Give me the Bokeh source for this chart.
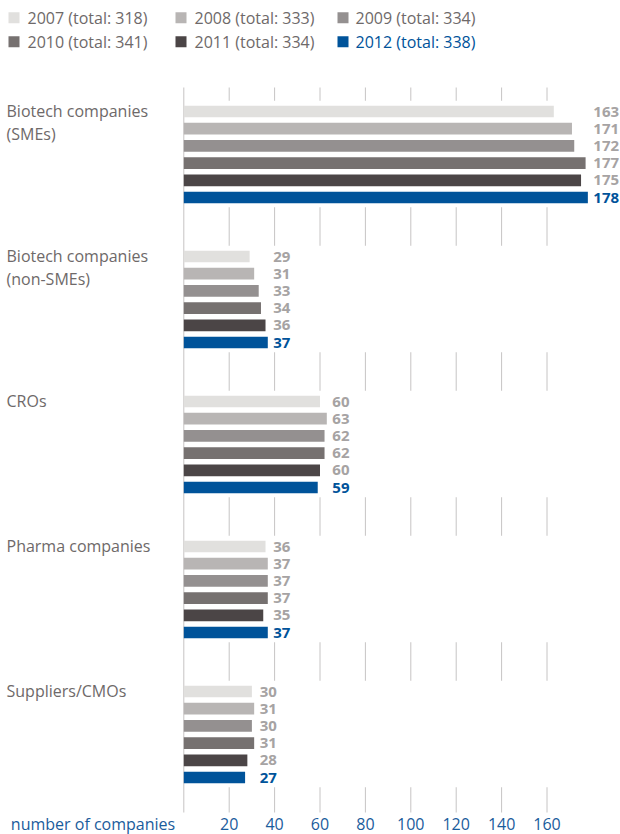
from bokeh.plotting import figure
from bokeh.models import Range1d, FixedTicker, ColumnDataSource
from bokeh.core.properties import value
from bokeh.embed import file_html
from bokeh.resources import INLINE

# ---------------- data ----------------
categories = ["Biotech companies\n(SMEs)", "Biotech companies\n(non-SMEs)", "CROs",
              "Pharma companies", "Suppliers/CMOs"]
years = ["2007", "2008", "2009", "2010", "2011", "2012"]
totals = [318, 333, 334, 341, 334, 338]
v2007 = [163, 29, 60, 36, 30]
v2008 = [171, 31, 63, 37, 31]
v2009 = [172, 33, 62, 37, 30]
v2010 = [177, 34, 62, 37, 31]
v2011 = [175, 36, 60, 35, 28]
v2012 = [178, 37, 59, 37, 27]
series = [v2007, v2008, v2009, v2010, v2011, v2012]
tick_values = [20, 40, 60, 80, 100, 120, 140, 160]
axis_title = "number of companies"

# ---------------- style ----------------
colors = ["#e1e0de", "#b8b5b4", "#949090", "#767170", "#4b4546", "#00539a"]
blue = "#00539a"
label_grey = "#6e6969"
value_grey = "#a6a3a3"
grid_grey = "#c6c4c4"
FONT = value("Open Sans")

W, H = 620, 834
PX = 2.27            # pixels per unit
X0 = 183.3           # pixel of zero
def ux(px):
    return (px - X0) / PX

first_center = 111.0
group_step = 145.0
bar_step = 17.2
bar_h = 11.7

p = figure(width=W, height=H, output_backend="svg", toolbar_location=None,
           x_range=Range1d(ux(0), ux(W)), y_range=Range1d(H, 0),
           y_axis_location=None, min_border=0, min_border_left=0,
           min_border_right=0, min_border_top=0, min_border_bottom=0)
p.outline_line_color = None
p.xgrid.visible = False
p.ygrid.visible = False
p.background_fill_color = "white"
p.border_fill_color = "white"

# gridlines
grid_top, grid_bottom = 87, 812
p.segment(x0=tick_values, x1=tick_values, y0=[grid_top] * len(tick_values),
          y1=[grid_bottom] * len(tick_values), line_color=grid_grey, line_width=1)

# white bands behind each group
ng = len(categories)
g_first = [first_center + g * group_step for g in range(ng)]
g_last = [c + (len(years) - 1) * bar_step for c in g_first]
p.quad(left=[0.4] * ng, right=[ux(W)] * ng,
       top=[c - bar_h / 2 - 5 for c in g_first],
       bottom=[c + bar_h / 2 + 4 for c in g_last],
       fill_color="white", line_color=None)

# zero line
p.segment(x0=[0], x1=[0], y0=[grid_top], y1=[grid_bottom], line_color=grid_grey, line_width=1)

# bars
for j, (yr, vals) in enumerate(zip(years, series)):
    ys = [g_first[g] + j * bar_step for g in range(ng)]
    src = ColumnDataSource(dict(y=ys, v=vals))
    p.hbar(y="y", left=0, right="v", height=bar_h, source=src,
           fill_color=colors[j], line_color=None)

# value labels positioned after the longest bar of each group
gmax = [max(s[g] for s in series) for g in range(ng)]
for j, (yr, vals) in enumerate(zip(years, series)):
    ys = [g_first[g] + j * bar_step for g in range(ng)]
    p.text(x=gmax, y=ys, text=[str(v) for v in vals], x_offset=5.5,
           text_font=FONT, text_font_size="15px", text_font_style="bold",
           text_color=blue if yr == "2012" else value_grey,
           text_baseline="middle", text_align="left")

# category labels
for g, cat in enumerate(categories):
    for k, line in enumerate(cat.split("\n")):
        p.text(x=[ux(6)], y=[g_first[g] - 0.5 + k * 22.5], text=[line],
               text_font=FONT, text_font_size="16px", text_color=label_grey,
               text_baseline="middle", text_align="left")

# legend (hand drawn)
leg_sq_x = [13.5, 180.5, 342.5]
leg_tx_x = [27, 194, 355]
leg_y = [17.2, 41.3]
for j, (yr, tot) in enumerate(zip(years, totals)):
    r, c = divmod(j, 3)
    p.scatter(x=[ux(leg_sq_x[c])], y=[leg_y[r]], marker="square", size=11,
              fill_color=colors[j], line_color=None)
    p.text(x=[ux(leg_tx_x[c])], y=[leg_y[r]], text=[f"{yr} (total: {tot})"],
           text_font=FONT, text_font_size="16px",
           text_color=blue if yr == "2012" else label_grey,
           text_baseline="middle", text_align="left")

# x axis, drawn at the bottom of the gridlines
title_pos = -40
p.xaxis.fixed_location = grid_bottom
p.xaxis.ticker = FixedTicker(ticks=[title_pos] + tick_values)
p.xaxis.major_label_overrides = {title_pos: axis_title}
p.xaxis.axis_line_color = None
p.xaxis.major_tick_line_color = None
p.xaxis.minor_tick_line_color = None
p.xaxis.major_tick_in = 0
p.xaxis.major_tick_out = 0
p.xaxis.major_label_standoff = 0
p.xaxis.major_label_text_font = "Open Sans"
p.xaxis.major_label_text_font_size = "16px"
p.xaxis.major_label_text_color = "#1a5c9c"

open("out.html", "w").write(file_html(p, INLINE))
